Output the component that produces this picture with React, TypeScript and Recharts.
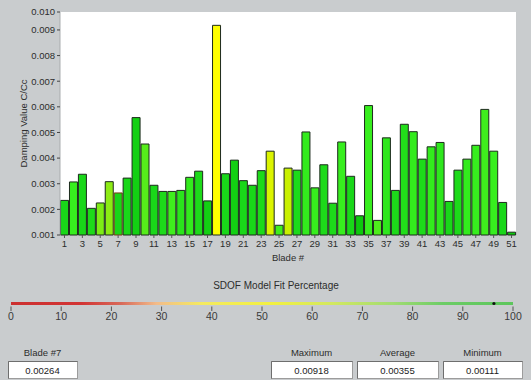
import { BarChart, Bar, XAxis, YAxis, CartesianGrid, Cell } from 'recharts';

const blades = Array.from({ length: 51 }, (_, i) => String(i + 1));

// damping ratio C/Cc per blade
const damping = [
  0.00235, 0.00307, 0.00337, 0.00204, 0.00225, 0.00308, 0.00264, 0.00322, 0.00558, 0.00455,
  0.00294, 0.0027, 0.0027, 0.00274, 0.00325, 0.00349, 0.00233, 0.00918, 0.00339, 0.00392,
  0.00312, 0.00294, 0.00351, 0.00427, 0.00138, 0.00361, 0.00353, 0.00502, 0.00284, 0.00374,
  0.00224, 0.00463, 0.00329, 0.00175, 0.00605, 0.00157, 0.00479, 0.00274, 0.00532, 0.00503,
  0.00396, 0.00444, 0.00461, 0.00231, 0.00353, 0.00396, 0.0045, 0.0059, 0.00427, 0.00227,
  0.00111,
];

// SDOF model fit percentage per blade
const fitPct = [
  96, 89, 96, 95, 80, 78, 96.2, 96, 97, 85,
  96, 95, 88, 92, 90, 95, 97, 55, 96, 97,
  96, 96, 95, 60, 88, 63, 95, 90, 89, 95,
  95, 89, 96, 98, 89, 86, 91, 95, 94, 90,
  95, 90, 91, 96, 95, 90, 89, 88, 89, 96,
  98,
];

const yTicks = [0.001, 0.002, 0.003, 0.004, 0.005, 0.006, 0.007, 0.008, 0.009, 0.0097];
const fitTicks = [0, 10, 20, 30, 40, 50, 60, 70, 80, 90, 100];
const selectedBlade = 7;

// bar fill by fit percentage
const barStops: [number, number[]][] = [
  [55, [255, 255, 0]],
  [62, [205, 240, 0]],
  [78, [140, 235, 20]],
  [89, [55, 238, 30]],
  [96, [25, 215, 25]],
  [100, [0, 185, 0]],
];

// colour band under the chart
const bandStops = [
  { pct: 0, color: '#cc3030' },
  { pct: 14, color: '#d23434' },
  { pct: 22, color: '#d86a5a' },
  { pct: 29, color: '#f2bc8a' },
  { pct: 38, color: '#f4ea60' },
  { pct: 52, color: '#f2f040' },
  { pct: 64, color: '#d2e860' },
  { pct: 76, color: '#a2dc72' },
  { pct: 86, color: '#6ccc66' },
  { pct: 100, color: '#5cc65c' },
];

function fitColor(f: number) {
  if (f <= barStops[0][0]) return `rgb(${barStops[0][1].join(',')})`;
  for (let i = 1; i < barStops.length; i++) {
    const [p1, c1] = barStops[i];
    const [p0, c0] = barStops[i - 1];
    if (f <= p1) {
      const t = (f - p0) / (p1 - p0);
      const c = c0.map((v, k) => Math.round(v + (c1[k] - v) * t));
      return `rgb(${c.join(',')})`;
    }
  }
  return `rgb(${barStops[barStops.length - 1][1].join(',')})`;
}

const data = blades.map((b, i) => ({ blade: b, value: damping[i], fit: fitPct[i] }));

const maxVal = Math.max(...damping);
const minVal = Math.min(...damping);
const avgVal = damping.reduce((s, v) => s + v, 0) / damping.length;

const font = '"Liberation Sans", Arial, sans-serif';
const textColor = '#2c2c2c';

const bandX0 = 11;
const bandX1 = 513;
const bandPos = (p: number) => bandX0 + (p / 100) * (bandX1 - bandX0);

function ValueBox({ x, w, label, value }: { x: number; w: number; label: string; value: number }) {
  return (
    <g>
      <text x={x + w / 2} y={87} textAnchor="middle" dominantBaseline="central" fontSize={9.5} fill={textColor}>
        {label}
      </text>
      <rect x={x + 0.5} y={96.5} width={w} height={17} fill="#fff" stroke="#9c9c9c" />
      <line x1={x + 0.5} y1={96.5} x2={x + w + 0.5} y2={96.5} stroke="#6e6e6e" />
      <line x1={x + 0.5} y1={96.5} x2={x + 0.5} y2={113.5} stroke="#6e6e6e" />
      <text x={x + w / 2} y={105.5} textAnchor="middle" dominantBaseline="central" fontSize={9.5} fill="#222">
        {value.toFixed(5)}
      </text>
    </g>
  );
}

export default function App() {
  const sel = data[selectedBlade - 1];
  return (
    <div
      style={{
        position: 'absolute',
        left: 0,
        top: 0,
        width: 531,
        height: 380,
        overflow: 'hidden',
        background: '#c9ccce',
        fontFamily: font,
      }}
    >
      <BarChart
        width={531}
        height={265}
        data={data}
        margin={{ top: 12, right: 15, left: 10, bottom: 0 }}
        barCategoryGap="6%"
        style={{ fontFamily: font }}
      >
        <CartesianGrid horizontal={false} vertical={false} fill="#ffffff" stroke="none" />
        <XAxis
          dataKey="blade"
          interval={1}
          height={30}
          tickSize={3}
          axisLine={false}
          tickLine={{ stroke: '#555' }}
          tick={{ fontSize: 9.5, fill: textColor }}
          label={{ value: 'Blade #', position: 'insideBottom', offset: 4, fontSize: 9.5, fill: textColor }}
        />
        <YAxis
          width={50}
          domain={[0.001, 0.0097]}
          ticks={yTicks}
          tickFormatter={(v: number) => v.toFixed(3)}
          tickSize={3}
          axisLine={{ stroke: '#a9adaf' }}
          tickLine={{ stroke: '#444' }}
          tick={{ fontSize: 9.5, fill: textColor }}
          label={{
            value: 'Damping Value C/Cc',
            angle: -90,
            position: 'insideLeft',
            offset: 14,
            fontSize: 9.5,
            fill: textColor,
            style: { textAnchor: 'middle' },
          }}
        />
        <Bar dataKey="value" isAnimationActive={false} strokeWidth={1}>
          {data.map((d, i) => (
            <Cell
              key={`cell-${i}`}
              fill={fitColor(d.fit)}
              stroke={i === selectedBlade - 1 ? '#7a3a12' : '#1d2a1d'}
            />
          ))}
        </Bar>
      </BarChart>

      <svg width={531} height={115} style={{ position: 'absolute', left: 0, top: 265, fontFamily: font }}>
        <defs>
          <linearGradient id="fitBand" x1="0" y1="0" x2="1" y2="0">
            {bandStops.map((s) => (
              <stop key={s.pct} offset={`${s.pct}%`} stopColor={s.color} />
            ))}
          </linearGradient>
        </defs>
        <text x={276} y={20} textAnchor="middle" dominantBaseline="central" fontSize={10} fill={textColor}>
          SDOF Model Fit Percentage
        </text>
        <rect x={bandX0} y={37} width={bandX1 - bandX0} height={3} fill="url(#fitBand)" />
        {fitTicks.map((t) => (
          <g key={t}>
            <line x1={bandPos(t)} y1={41.5} x2={bandPos(t)} y2={46} stroke="#555" />
            <text x={bandPos(t)} y={51} textAnchor="middle" dominantBaseline="central" fontSize={10.5} fill="#3a3a3a">
              {t}
            </text>
          </g>
        ))}
        <circle cx={bandPos(sel.fit)} cy={38.5} r={1.6} fill="#111" />

        <ValueBox x={8} w={69} label={`Blade #${selectedBlade}`} value={sel.value} />
        <ValueBox x={271} w={81} label="Maximum" value={maxVal} />
        <ValueBox x={357} w={81} label="Average" value={avgVal} />
        <ValueBox x={443} w={79} label="Minimum" value={minVal} />
      </svg>
    </div>
  );
}
